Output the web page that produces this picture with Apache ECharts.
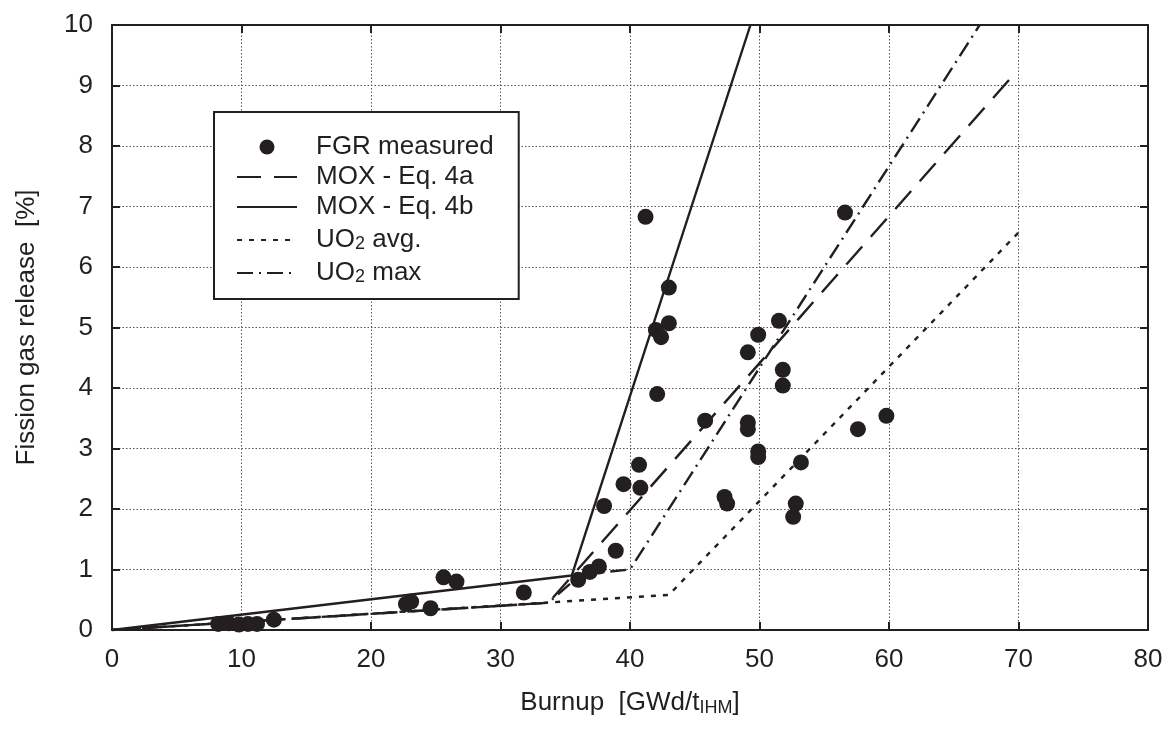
<!DOCTYPE html>
<html>
<head>
<meta charset="utf-8">
<script src="https://cdn.jsdelivr.net/npm/echarts@6/dist/echarts.min.js"></script>
<style>
html,body{margin:0;padding:0;background:#fff;}
#chart{width:1171px;height:731px;}
</style>
</head>
<body>
<div id="chart"></div>
<script>
// Measured fission gas release
const burnupMeasured = [8.2, 9.0, 9.8, 10.5, 11.2, 12.5,
  22.7, 23.1, 24.6, 25.6, 26.6, 31.8,
  36.0, 36.9, 37.6, 38.9, 38.0, 39.5, 40.7, 40.8,
  41.2, 42.0, 42.4, 42.1, 43.0, 43.0, 45.8,
  47.3, 47.5, 49.1, 49.1, 49.1, 49.9, 49.9, 49.9,
  51.5, 51.8, 51.8, 52.6, 52.8, 53.2, 56.6, 57.6, 59.8];
const fgrMeasured = [0.10, 0.11, 0.09, 0.10, 0.10, 0.17,
  0.43, 0.47, 0.36, 0.87, 0.80, 0.62,
  0.83, 0.96, 1.05, 1.31, 2.05, 2.41, 2.73, 2.35,
  6.83, 4.96, 4.84, 3.90, 5.66, 5.07, 3.46,
  2.20, 2.09, 4.59, 3.43, 3.32, 4.88, 2.95, 2.86,
  5.11, 4.30, 4.04, 1.87, 2.09, 2.77, 6.90, 3.32, 3.54];

// Model curves (breakpoints)
const eq4aX = [0, 33.7, 69.3];
const eq4aY = [0, 0.45, 9.1];
const eq4bX = [0, 35.5, 49.3];
const eq4bY = [0, 0.9, 10];
const uo2AvgX = [0, 43.0, 70.0];
const uo2AvgY = [0, 0.58, 6.57];
const uo2MaxX = [0, 33.7, 36.2, 40.0, 67.0];
const uo2MaxY = [0, 0.45, 0.92, 1.0, 10];

const xTicks = [0, 10, 20, 30, 40, 50, 60, 70, 80];
const yTicks = [0, 1, 2, 3, 4, 5, 6, 7, 8, 9, 10];
const legendNames = ['FGR measured', 'MOX - Eq. 4a', 'MOX - Eq. 4b', 'UO2 avg.', 'UO2 max'];

const zip = (xs, ys) => xs.map((x, i) => [x, ys[i]]);
const INK = '#231f20';
const FONT = 'Liberation Sans, Arial, Helvetica, sans-serif';
const FS = 26;
const SUB = 18;

const chart = echarts.init(document.getElementById('chart'));
const gridLine = {show: true, lineStyle: {color: '#555', width: 1, type: [1.5, 2]}};
const frameLine = {show: true, onZero: false, lineStyle: {color: INK, width: 2}};
const inTick = {show: true, inside: true, length: 8, lineStyle: {color: INK, width: 2}};

const lineSeries = (name, xs, ys, type) => ({
  name, type: 'line', data: zip(xs, ys),
  symbol: 'none', smooth: false,
  xAxisIndex: 0, yAxisIndex: 0, z: 3,
  lineStyle: {color: INK, width: 2.4, type: type},
  itemStyle: {color: INK}
});

const hiddenSym = {color: 'rgba(0,0,0,0)', borderColor: 'rgba(0,0,0,0)', borderWidth: 0, opacity: 0};

chart.setOption({
  animation: false,
  backgroundColor: '#fff',
  textStyle: {fontFamily: FONT},
  grid: {left: 112, right: 23, top: 25, bottom: 101, containLabel: false},
  xAxis: [{
    type: 'value', min: 0, max: 80, interval: 10, position: 'bottom',
    axisLine: frameLine, axisTick: inTick, splitLine: gridLine,
    axisLabel: {show: true, color: INK, fontSize: FS, fontFamily: FONT, margin: 17,
      formatter: v => xTicks.includes(v) ? String(v) : ''},
    name: '{a|Burnup  [GWd/t}{s|IHM}{a|]}', nameLocation: 'middle', nameGap: 58,
    nameTextStyle: {rich: {
      a: {fontSize: FS, fontFamily: FONT, color: INK},
      s: {fontSize: SUB, fontFamily: FONT, color: INK, verticalAlign: 'bottom', padding: [11, 0, 0, 0]}
    }}
  }, {
    type: 'value', min: 0, max: 80, interval: 10, position: 'top',
    axisLine: frameLine, axisTick: inTick, splitLine: {show: false}, axisLabel: {show: false}
  }],
  yAxis: [{
    type: 'value', min: 0, max: 10, interval: 1, position: 'left',
    axisLine: frameLine, axisTick: inTick, splitLine: gridLine,
    axisLabel: {show: true, color: INK, fontSize: FS, fontFamily: FONT, margin: 19,
      formatter: v => yTicks.includes(v) ? String(v) : ''},
    name: 'Fission gas release  [%]', nameLocation: 'middle', nameGap: 72,
    nameTextStyle: {fontSize: FS, fontFamily: FONT, color: INK}
  }, {
    type: 'value', min: 0, max: 10, interval: 1, position: 'right',
    axisLine: frameLine, axisTick: inTick, splitLine: {show: false}, axisLabel: {show: false}
  }],
  legend: {
    show: true, orient: 'vertical', left: 214, top: 112,
    padding: [22, 25, 13, 22],
    backgroundColor: '#fff', borderColor: INK, borderWidth: 2, borderRadius: 0,
    itemWidth: 60, itemHeight: 15, itemGap: 4,
    data: legendNames.map((n, i) => i === 0 ? {name: n} : {name: n, itemStyle: hiddenSym}),
    formatter: function (name) {
      if (name === 'UO2 avg.') return '{a|UO}{s|2}{a| avg.}';
      if (name === 'UO2 max') return '{a|UO}{s|2}{a| max}';
      return '{a|' + name + '}';
    },
    textStyle: {
      padding: [0, 0, 0, 14],
      rich: {
        a: {fontSize: FS, fontFamily: FONT, color: INK, lineHeight: 26},
        s: {fontSize: SUB, fontFamily: FONT, color: INK, verticalAlign: 'bottom', lineHeight: 26, padding: [11, 0, 0, 0]}
      }
    }
  },
  series: [
    {
      name: 'FGR measured', type: 'scatter', data: zip(burnupMeasured, fgrMeasured),
      symbol: 'circle', symbolSize: 16, z: 5,
      itemStyle: {color: INK, opacity: 1}
    },
    lineSeries('MOX - Eq. 4a', eq4aX, eq4aY, [24, 13]),
    lineSeries('MOX - Eq. 4b', eq4bX, eq4bY, 'solid'),
    lineSeries('UO2 avg.', uo2AvgX, uo2AvgY, [5, 7]),
    lineSeries('UO2 max', uo2MaxX, uo2MaxY, [16, 6, 2, 6])
  ]
});
</script>
</body>
</html>
